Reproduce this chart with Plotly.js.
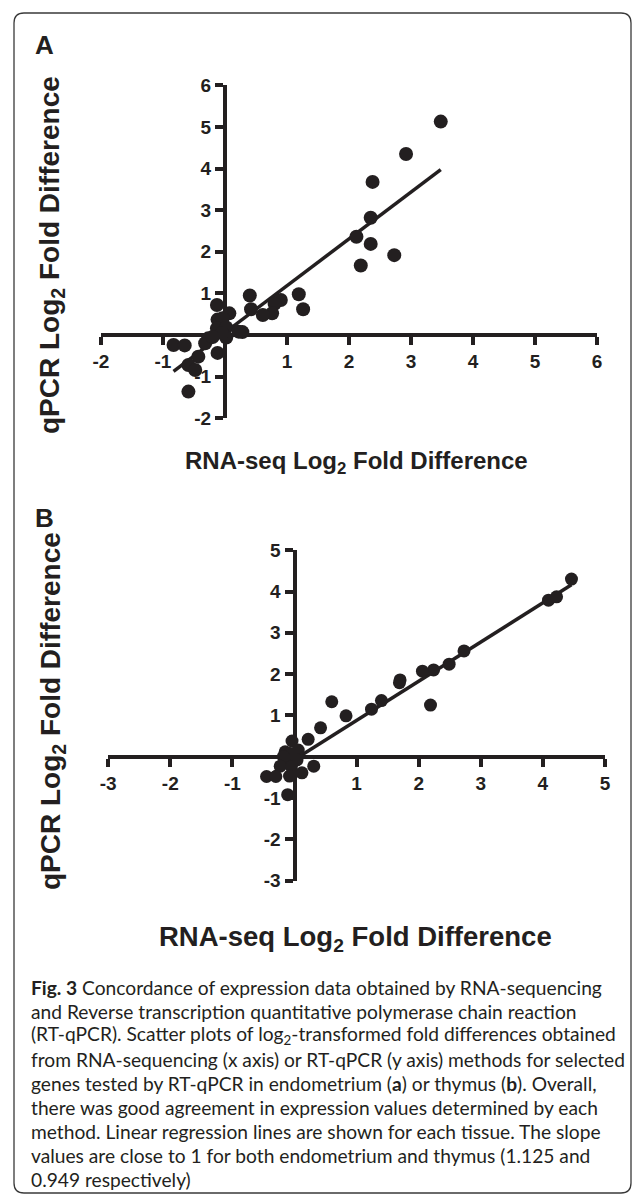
<!DOCTYPE html>
<html>
<head>
<meta charset="utf-8">
<script src="https://cdn.plot.ly/plotly-3.0.1.min.js"></script>
<style>html,body{margin:0;padding:0;background:#fff}#chart{width:633px;height:1194px}</style>
</head>
<body>
<div id="chart"></div>
<script>
// ---------- Data ----------
// Panel A: endometrium
const endoRnaSeq = [3.48, 2.92, 2.38, 2.35, 2.12, 2.35, 2.73, 2.19, 0.40, 1.19, 1.26, 0.90, 0.80, 0.76, 0.61, 0.42,
  -0.13, 0.07, -0.12, -0.04, -0.13, 0.02, 0.28, 0.22, 0.02, -0.27, -0.32, -0.83, -0.65, -0.43, -0.12, -0.59, -0.48, -0.59, -0.05, -0.20];
const endoQpcr = [5.13, 4.35, 3.68, 2.82, 2.36, 2.19, 1.92, 1.67, 0.95, 0.98, 0.62, 0.84, 0.75, 0.52, 0.48, 0.62,
  0.72, 0.52, 0.37, 0.40, 0.16, 0.18, 0.07, 0.08, -0.06, -0.08, -0.20, -0.24, -0.25, -0.52, -0.43, -0.72, -0.84, -1.36, 0.05, -0.05];
const endoSlope = 1.125, endoIntercept = 0.06;

// Panel B: thymus
const thyRnaSeq = [4.46, 4.09, 4.22, 2.73, 2.49, 2.24, 2.06, 1.70, 1.69, 1.40, 1.24, 2.19, 0.60, 0.83, 0.42, 0.22,
  -0.04, -0.15, 0.06, -0.07, -0.18, -0.13, 0.04, -0.23, -0.05, 0.31, -0.45, -0.30, -0.08, 0.12, -0.11];
const thyQpcr = [4.30, 3.79, 3.87, 2.56, 2.24, 2.10, 2.07, 1.86, 1.79, 1.36, 1.15, 1.25, 1.33, 0.99, 0.70, 0.42,
  0.38, 0.12, 0.16, 0.08, 0.00, -0.12, -0.08, -0.23, -0.24, -0.23, -0.48, -0.48, -0.47, -0.39, -0.92];
const thySlope = 0.949, thyIntercept = -0.07;

// Axis ranges and tick values
const rangeAx = [-2, 6], rangeAy = [-2, 6];
const rangeBx = [-3, 5], rangeBy = [-3, 5];
const ticksAx = [-2, -1, 1, 2, 3, 4, 5, 6];
const ticksAy = [-2, -1, 1, 2, 3, 4, 5, 6];
const ticksBx = [-3, -2, -1, 1, 2, 3, 4, 5];
const ticksBy = [-3, -2, -1, 1, 2, 3, 4, 5];

const captionLines = [
  "<b>Fig. 3</b> Concordance of expression data obtained by RNA-sequencing",
  "and Reverse transcription quantitative polymerase chain reaction",
  "(RT-qPCR). Scatter plots of log<sub>2</sub>-transformed fold differences obtained",
  "from RNA-sequencing (x axis) or RT-qPCR (y axis) methods for selected",
  "genes tested by RT-qPCR in endometrium (<b>a</b>) or thymus (<b>b</b>). Overall,",
  "there was good agreement in expression values determined by each",
  "method. Linear regression lines are shown for each tissue. The slope",
  "values are close to 1 for both endometrium and thymus (1.125 and",
  "0.949 respectively)"
];
const xTitle = "RNA-seq Log<sub>2</sub> Fold Difference";
const yTitle = "qPCR Log<sub>2</sub> Fold Difference";

// ---------- Layout helpers ----------
const W = 633, H = 1194;
const PX = p => p / W;
const PY = p => 1 - p / H;
const INK = '#231f20';
const FONT = 'Liberation Sans, Arial, sans-serif';

function regLine(xs, slope, icpt) {
  const lo = Math.min(...xs), hi = Math.max(...xs);
  return { x: [lo, hi], y: [slope * lo + icpt, slope * hi + icpt] };
}
const lineA = regLine(endoRnaSeq, endoSlope, endoIntercept);
const lineB = regLine(thyRnaSeq, thySlope, thyIntercept);

const traces = [
  { x: lineA.x, y: lineA.y, xaxis: 'x', yaxis: 'y', mode: 'lines', line: { color: INK, width: 3.5 }, cliponaxis: false, hoverinfo: 'skip' },
  { x: endoRnaSeq, y: endoQpcr, xaxis: 'x', yaxis: 'y', mode: 'markers', marker: { color: INK, size: 14 }, cliponaxis: false },
  { x: lineB.x, y: lineB.y, xaxis: 'x2', yaxis: 'y2', mode: 'lines', line: { color: INK, width: 3.5 }, cliponaxis: false, hoverinfo: 'skip' },
  { x: thyRnaSeq, y: thyQpcr, xaxis: 'x2', yaxis: 'y2', mode: 'markers', marker: { color: INK, size: 13 }, cliponaxis: false }
];

const domAx = [PX(101), PX(597)], domAy = [PY(418.2), PY(85.4)];
const domBx = [PX(108.2), PX(605)], domBy = [PY(880.6), PY(550.2)];

function zeroPos(dom, range) {
  return dom[0] + (0 - range[0]) / (range[1] - range[0]) * (dom[1] - dom[0]);
}
function axis(dom, range, ticks, anchorPos, extra) {
  return Object.assign({
    domain: dom, range: range, anchor: 'free', position: anchorPos,
    showline: true, linewidth: 4, linecolor: INK,
    ticks: 'outside', ticklen: 8, tickwidth: 4, tickcolor: INK,
    tickmode: 'array', tickvals: ticks, ticktext: ticks.map(String),
    tickfont: { family: FONT, size: 19, color: INK, weight: 'bold' },
    showgrid: false, zeroline: false, fixedrange: true
  }, extra || {});
}

const ann = [];
function txt(text, x, y, size, opts) {
  ann.push(Object.assign({ text: text, xref: 'paper', yref: 'paper', x: PX(x), y: PY(y),
    xanchor: 'center', yanchor: 'middle',
    showarrow: false, font: { family: FONT, size: size, color: INK, weight: 'bold' } }, opts || {}));
}
txt('A', 44, 45, 26);
txt('B', 44, 518, 26);
txt(yTitle, 52, 255, 28, { textangle: -90 });
txt(yTitle, 52, 711, 28, { textangle: -90 });
txt(xTitle, 356, 463, 24);
txt(xTitle, 355, 938, 27.5);
captionLines.forEach((t, i) => {
  ann.push({ text: t, xref: 'paper', yref: 'paper', x: PX(29), y: PY(987 + i * 24.1),
    xanchor: 'left', yanchor: 'middle', showarrow: false,
    font: { family: 'Lato, sans-serif', size: 19.2, color: INK } });
});

// rounded frame
const fx0 = 14, fy0 = 13, fx1 = 631, fy1 = 1193, r = 10;
const framePath = [
  'M', PX(fx0 + r), PY(fy0), 'L', PX(fx1 - r), PY(fy0), 'Q', PX(fx1), PY(fy0), PX(fx1), PY(fy0 + r),
  'L', PX(fx1), PY(fy1 - r), 'Q', PX(fx1), PY(fy1), PX(fx1 - r), PY(fy1),
  'L', PX(fx0 + r), PY(fy1), 'Q', PX(fx0), PY(fy1), PX(fx0), PY(fy1 - r),
  'L', PX(fx0), PY(fy0 + r), 'Q', PX(fx0), PY(fy0), PX(fx0 + r), PY(fy0), 'Z'
].join(' ');

const layout = {
  width: W, height: H, margin: { l: 0, r: 0, t: 0, b: 0 },
  paper_bgcolor: '#fff', plot_bgcolor: 'rgba(0,0,0,0)', showlegend: false, hovermode: false,
  xaxis: axis(domAx, rangeAx, ticksAx, zeroPos(domAy, rangeAy)),
  yaxis: axis(domAy, rangeAy, ticksAy, zeroPos(domAx, rangeAx)),
  xaxis2: axis(domBx, rangeBx, ticksBx, zeroPos(domBy, rangeBy)),
  yaxis2: axis(domBy, rangeBy, ticksBy, zeroPos(domBx, rangeBx)),
  annotations: ann,
  shapes: [{ type: 'path', xref: 'paper', yref: 'paper', path: framePath, line: { color: '#3a3a3a', width: 1.3 } }]
};

Plotly.newPlot('chart', traces, layout, { staticPlot: true, displayModeBar: false });
</script>
</body>
</html>
